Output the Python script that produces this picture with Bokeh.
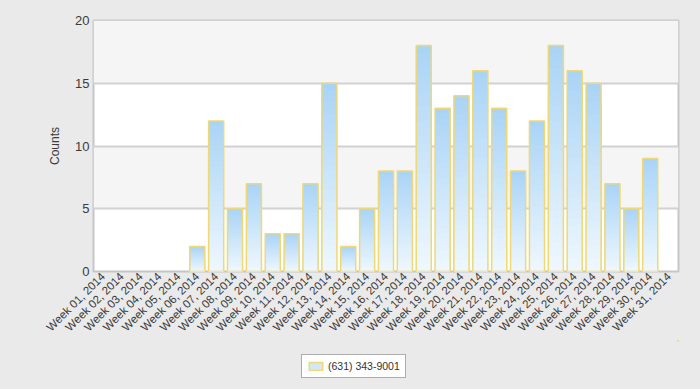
import math
from bokeh.plotting import figure
from bokeh.layouts import column
from bokeh.models import FactorRange, Range1d, Legend, LegendItem, ColumnDataSource
from bokeh.embed import file_html
from bokeh.resources import INLINE

weeks = ["Week %02d, 2014" % i for i in range(1, 32)]
counts = [0, 0, 0, 0, 0, 2, 12, 5, 7, 3, 3, 7, 15, 2, 5, 8, 8, 18, 13, 14,
          16, 13, 8, 12, 18, 16, 15, 7, 5, 9, 0]
series_name = "(631) 343-9001"
y_ticks = [0, 5, 10, 15, 20]

FONT = "Liberation Sans"
PAGE = "#eaeaea"

p = figure(x_range=FactorRange(*weeks, range_padding=0), y_range=Range1d(0, 20),
           width=700, height=340, output_backend="svg", toolbar_location=None,
           min_border_left=93, min_border_right=22, min_border_top=20,
           min_border_bottom=69)
p.border_fill_color = PAGE
p.background_fill_color = "white"
p.outline_line_color = "#c6c6c6"
p.outline_line_width = 2

p.xgrid.grid_line_color = None
p.ygrid.grid_line_color = "#d2d2d2"
p.ygrid.grid_line_width = 2
p.ygrid.band_fill_color = "#f5f5f5"
p.ygrid.band_fill_alpha = 1.0
p.yaxis.ticker = y_ticks

# gradient bars: overlapping bars, each shorter one paler, all from the data
n = 30
top_c = (170, 212, 246)
bot_c = (238, 247, 254)
for k in range(n):
    t = k / (n - 1)
    c = tuple(int(round(top_c[j] + (bot_c[j] - top_c[j]) * t)) for j in range(3))
    src = ColumnDataSource(dict(x=weeks, top=[v * (1 - k / n) for v in counts]))
    p.vbar(x="x", top="top", bottom=0, width=0.8, source=src,
           fill_color="#%02x%02x%02x" % c, line_color=None)

osrc = ColumnDataSource(dict(x=weeks, top=counts,
                             la=[1.0 if v > 0 else 0.0 for v in counts]))
p.vbar(x="x", top="top", width=0.8, source=osrc, fill_color=None,
       line_color="#f0d872", line_width=1.5, line_alpha="la")

for ax in (p.xaxis, p.yaxis):
    ax.axis_line_color = None
    ax.major_tick_line_color = None
    ax.minor_tick_line_color = None
    ax.major_tick_out = 0
    ax.major_tick_in = 0
    ax.minor_tick_out = 0
    ax.minor_tick_in = 0
    ax.major_label_text_font = FONT
    ax.major_label_text_color = "#3a3a3a"

p.yaxis.major_label_text_font_size = "13px"
p.yaxis.major_label_standoff = 4
p.yaxis.axis_label = "Counts"
p.yaxis.axis_label_text_font = FONT
p.yaxis.axis_label_text_font_style = "normal"
p.yaxis.axis_label_text_font_size = "12px"
p.yaxis.axis_label_text_color = "#3a3a3a"
p.yaxis.axis_label_standoff = 10

p.xaxis.major_label_orientation = math.pi / 4
p.xaxis.major_label_text_font_size = "11.5px"
p.xaxis.major_label_standoff = 3

# legend strip below the chart (its series renderer sits far outside the visible range)
lg = figure(width=700, height=49, output_backend="svg", toolbar_location=None,
            x_range=Range1d(-1000, -999), y_range=Range1d(-1000, -999), min_border=0)
lg.axis.visible = False
lg.grid.visible = False
lg.outline_line_color = None
lg.background_fill_color = None
lg.border_fill_color = PAGE
swatch = lg.vbar(x=list(range(len(counts))), top=counts, width=0.8,
                 fill_color="#d2e8fa", line_color="#f0d872", line_width=1.5)
legend = Legend(items=[LegendItem(label=series_name, renderers=[swatch])],
                location=(208, 11), orientation="horizontal",
                background_fill_color="white", background_fill_alpha=1,
                border_line_color="#5a5a5a", border_line_width=1,
                label_text_font=FONT, label_text_font_size="10.5px",
                label_text_color="#333333", glyph_width=17, glyph_height=10,
                padding=5, margin=0, label_standoff=4, spacing=0,
                label_height=11)
lg.add_layout(legend, "center")

layout = column(p, lg, spacing=0, styles={"background-color": PAGE})
open("out.html", "w").write(file_html(layout, INLINE))
